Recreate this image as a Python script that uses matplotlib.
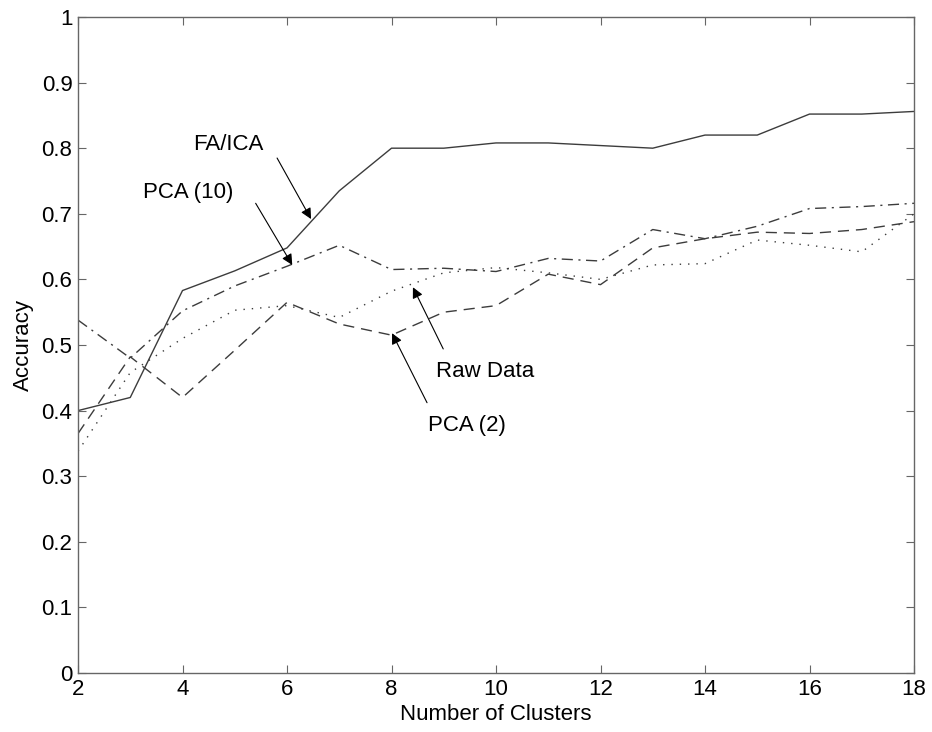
import matplotlib

matplotlib.use("Agg")
import matplotlib.pyplot as plt

plt.rcParams["font.family"] = ["Liberation Sans", "DejaVu Sans"]

clusters = list(range(2, 19))
fa_ica = [0.400, 0.420, 0.583, 0.613, 0.648, 0.735, 0.800, 0.800, 0.808,
          0.808, 0.804, 0.800, 0.820, 0.820, 0.852, 0.852, 0.856]
pca_10 = [0.538, 0.480, 0.552, 0.590, 0.620, 0.652, 0.615, 0.617, 0.612,
          0.632, 0.628, 0.676, 0.662, 0.681, 0.708, 0.711, 0.716]
pca_2 = [0.365, 0.482, 0.420, 0.492, 0.565, 0.532, 0.515, 0.550, 0.560,
         0.608, 0.592, 0.648, 0.662, 0.672, 0.670, 0.676, 0.688]
raw_data = [0.338, 0.458, 0.510, 0.553, 0.560, 0.542, 0.582, 0.610, 0.618,
            0.610, 0.600, 0.622, 0.624, 0.660, 0.652, 0.642, 0.700]

# label text position, arrow tail, arrow tip (data coords)
annotations = [
    ("FA/ICA", (4.87, 0.805), (5.81, 0.785), (6.46, 0.692)),
    ("PCA (10)", (4.10, 0.733), (5.40, 0.716), (6.10, 0.622)),
    ("Raw Data", (9.80, 0.459), (8.99, 0.494), (8.41, 0.588)),
    ("PCA (2)", (9.44, 0.378), (8.68, 0.412), (8.01, 0.518)),
]

fig = plt.figure(figsize=(9.32, 7.32), dpi=100)
ax = fig.add_axes([0.0837, 0.0806, 0.897, 0.8962])

line_color = "#3c3c3c"
ax.plot(clusters, fa_ica, "-", color=line_color, lw=1.0)
ax.plot(clusters, pca_10, color=line_color, lw=1.0, dashes=(8, 4, 1.5, 4))
ax.plot(clusters, pca_2, color=line_color, lw=1.0, dashes=(8, 5))
ax.plot(clusters, raw_data, color=line_color, lw=1.0, dashes=(1, 5))

for label, text_pos, tail, tip in annotations:
    ax.text(text_pos[0], text_pos[1], label, ha="center", va="center", fontsize=16)
    ax.annotate(
        "",
        xy=tip,
        xytext=tail,
        arrowprops=dict(arrowstyle="-|>", color="black", lw=0.8,
                        mutation_scale=16, shrinkA=0, shrinkB=0),
    )

ax.set_xlim(2, 18)
ax.set_ylim(0, 1)
ax.set_xticks(range(2, 19, 2))
ax.set_yticks([i / 10 for i in range(11)])
ax.set_yticklabels(["0"] + [f"{i / 10:.1f}" for i in range(1, 10)] + ["1"])
ax.tick_params(direction="in", length=6, width=0.8, color="#666666",
               labelsize=16, top=True, right=True, pad=4)
for spine in ax.spines.values():
    spine.set_color("#666666")
    spine.set_linewidth(1.0)

ax.set_xlabel("Number of Clusters", fontsize=16, labelpad=3)
ax.set_ylabel("Accuracy", fontsize=16)
ax.yaxis.set_label_coords(-0.053, 0.5)

fig.savefig("out.png", dpi=100)
plt.close(fig)
